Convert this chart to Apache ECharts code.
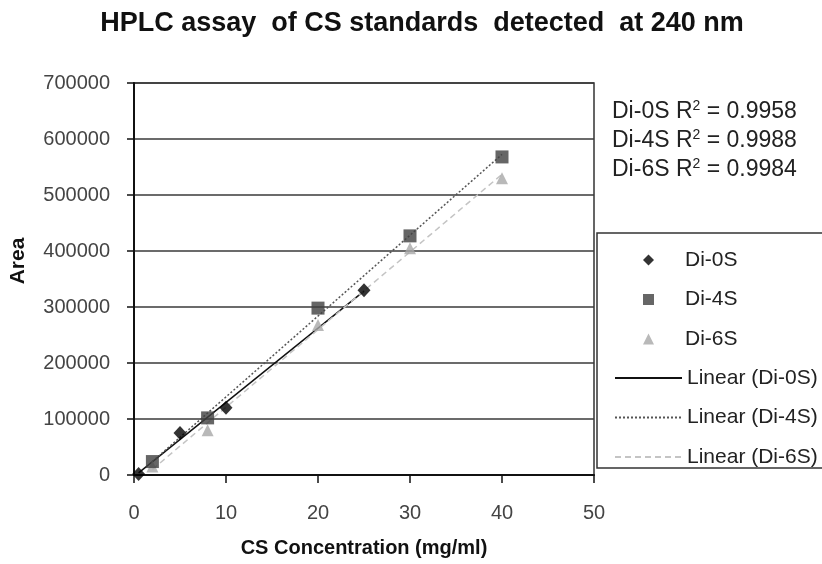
<!DOCTYPE html>
<html>
<head>
<meta charset="utf-8">
<script src="https://cdn.jsdelivr.net/npm/echarts@6/dist/echarts.min.js"></script>
<style>
html,body{margin:0;padding:0;background:#fff;}
#chart{width:822px;height:564px;}
</style>
</head>
<body>
<div id="chart"></div>
<script>
// ---- data ----
var conc0S = [0.5, 5, 10, 25];
var area0S = [2000, 75000, 120000, 330000];
var conc4S = [2, 8, 20, 30, 40];
var area4S = [24000, 102000, 298000, 427000, 568000];
var conc6S = [2, 8, 20, 30, 40];
var area6S = [15000, 80000, 268000, 405000, 530000];
// trendline end points
var trendX0S = [0.5, 25];
var trendY0S = [3700, 328400];
var trendX4S = [2, 40];
var trendY4S = [24000, 572500];
var trendX6S = [2, 40];
var trendY6S = [10000, 537000];
var xTicks = [0, 10, 20, 30, 40, 50];
var yTicks = [0, 100000, 200000, 300000, 400000, 500000, 600000, 700000];
var r2Labels = ['Di-0S', 'Di-4S', 'Di-6S'];
var r2Values = ['0.9958', '0.9988', '0.9984'];

function pairs(xs, ys) { return xs.map(function (x, i) { return [x, ys[i]]; }); }

var chart = echarts.init(document.getElementById('chart'), null, {renderer: 'canvas'});
var FONT = '"Liberation Sans", Arial, sans-serif';

var r2Graphics = r2Labels.map(function (lab, i) {
  return {
    type: 'text', x: 612, y: 112 + i * 29,
    style: {
      text: lab + ' R{sup|2} = ' + r2Values[i],
      fontFamily: FONT, fontSize: 23, fill: '#222', verticalAlign: 'middle',
      rich: { sup: { fontSize: 14, verticalAlign: 'top', padding: [0, 0, 12, 0], fontFamily: FONT, fill: '#222' } }
    }
  };
});

var option = {
  backgroundColor: '#fff',
  animation: false,
  title: {
    text: 'HPLC assay  of CS standards  detected  at 240 nm',
    left: 417, textAlign: 'center', top: 5,
    textStyle: { fontFamily: FONT, fontWeight: 'bold', fontSize: 27, color: '#111' }
  },
  grid: { left: 134, right: 228, top: 83, bottom: 89, show: true, borderColor: '#333', borderWidth: 1.5, backgroundColor: 'transparent' },
  legend: [{
    orient: 'vertical', left: 638, top: 244,
    itemWidth: 11, itemHeight: 11, itemGap: 17.5,
    textStyle: { fontFamily: FONT, fontSize: 21, color: '#222', lineHeight: 22, padding: [0, 0, 0, 26] },
    data: [
      { name: 'Di-0S', icon: 'diamond' },
      { name: 'Di-4S', icon: 'rect' },
      { name: 'Di-6S', icon: 'triangle' }
    ]
  }, {
    orient: 'vertical', left: 609, top: 362,
    itemWidth: 67, itemHeight: 11, itemGap: 17.5,
    itemStyle: { opacity: 0 },
    textStyle: { fontFamily: FONT, fontSize: 21, color: '#222', lineHeight: 22 },
    data: ['Linear (Di-0S)', 'Linear (Di-4S)', 'Linear (Di-6S)']
  }],
  xAxis: {
    type: 'value', min: xTicks[0], max: xTicks[xTicks.length - 1], interval: xTicks[1] - xTicks[0],
    name: 'CS Concentration (mg/ml)', nameLocation: 'middle', nameGap: 63,
    nameTextStyle: { fontFamily: FONT, fontWeight: 'bold', fontSize: 20, color: '#111' },
    axisLine: { lineStyle: { color: '#111', width: 2 } },
    axisTick: { show: true, inside: false, length: 8, lineStyle: { color: '#111', width: 1.5 } },
    axisLabel: { fontFamily: FONT, fontSize: 20, color: '#444', margin: 28 },
    splitLine: { show: false }
  },
  yAxis: {
    type: 'value', min: yTicks[0], max: yTicks[yTicks.length - 1], interval: yTicks[1] - yTicks[0],
    axisLine: { show: true, lineStyle: { color: '#111', width: 2 } },
    axisTick: { show: true, inside: false, length: 7, lineStyle: { color: '#111', width: 1.5 } },
    axisLabel: { fontFamily: FONT, fontSize: 20, color: '#444', margin: 24, formatter: function (v) { return String(v); } },
    splitLine: { show: true, lineStyle: { color: '#3a3a3a', width: 1.5 } }
  },
  graphic: [
    { type: 'rect', shape: { x: 597, y: 233, width: 240, height: 235 }, style: { fill: '#fff', stroke: '#333', lineWidth: 1.5 }, z: 0 },
    { type: 'text', x: 18, y: 261, rotation: Math.PI / 2,
      style: { text: 'Area', fontFamily: FONT, fontWeight: 'bold', fontSize: 21, fill: '#111', align: 'center', verticalAlign: 'middle' } }
  ].concat(r2Graphics),
  series: [
    { name: 'Linear (Di-0S)', type: 'line', data: pairs(trendX0S, trendY0S), showSymbol: false, symbol: 'none',
      lineStyle: { color: '#111', width: 1.5, type: 'solid' }, itemStyle: { color: '#111' }, z: 2 },
    { name: 'Linear (Di-4S)', type: 'line', data: pairs(trendX4S, trendY4S), showSymbol: false, symbol: 'none',
      lineStyle: { color: '#555', width: 1.5, type: [2, 2] }, itemStyle: { color: '#555' }, z: 2 },
    { name: 'Linear (Di-6S)', type: 'line', data: pairs(trendX6S, trendY6S), showSymbol: false, symbol: 'none',
      lineStyle: { color: '#c4c4c4', width: 1.5, type: [6, 4] }, itemStyle: { color: '#c4c4c4' }, z: 2 },
    { name: 'Di-6S', type: 'scatter', data: pairs(conc6S, area6S), symbol: 'triangle', symbolSize: 12,
      itemStyle: { color: '#a8a8a8' }, z: 3 },
    { name: 'Di-4S', type: 'scatter', data: pairs(conc4S, area4S), symbol: 'rect', symbolSize: 13,
      itemStyle: { color: '#404040' }, z: 4 },
    { name: 'Di-0S', type: 'scatter', data: pairs(conc0S, area0S), symbol: 'diamond', symbolSize: [13, 14],
      itemStyle: { color: '#000' }, z: 5 }
  ]
};
chart.setOption(option);
</script>
</body>
</html>
